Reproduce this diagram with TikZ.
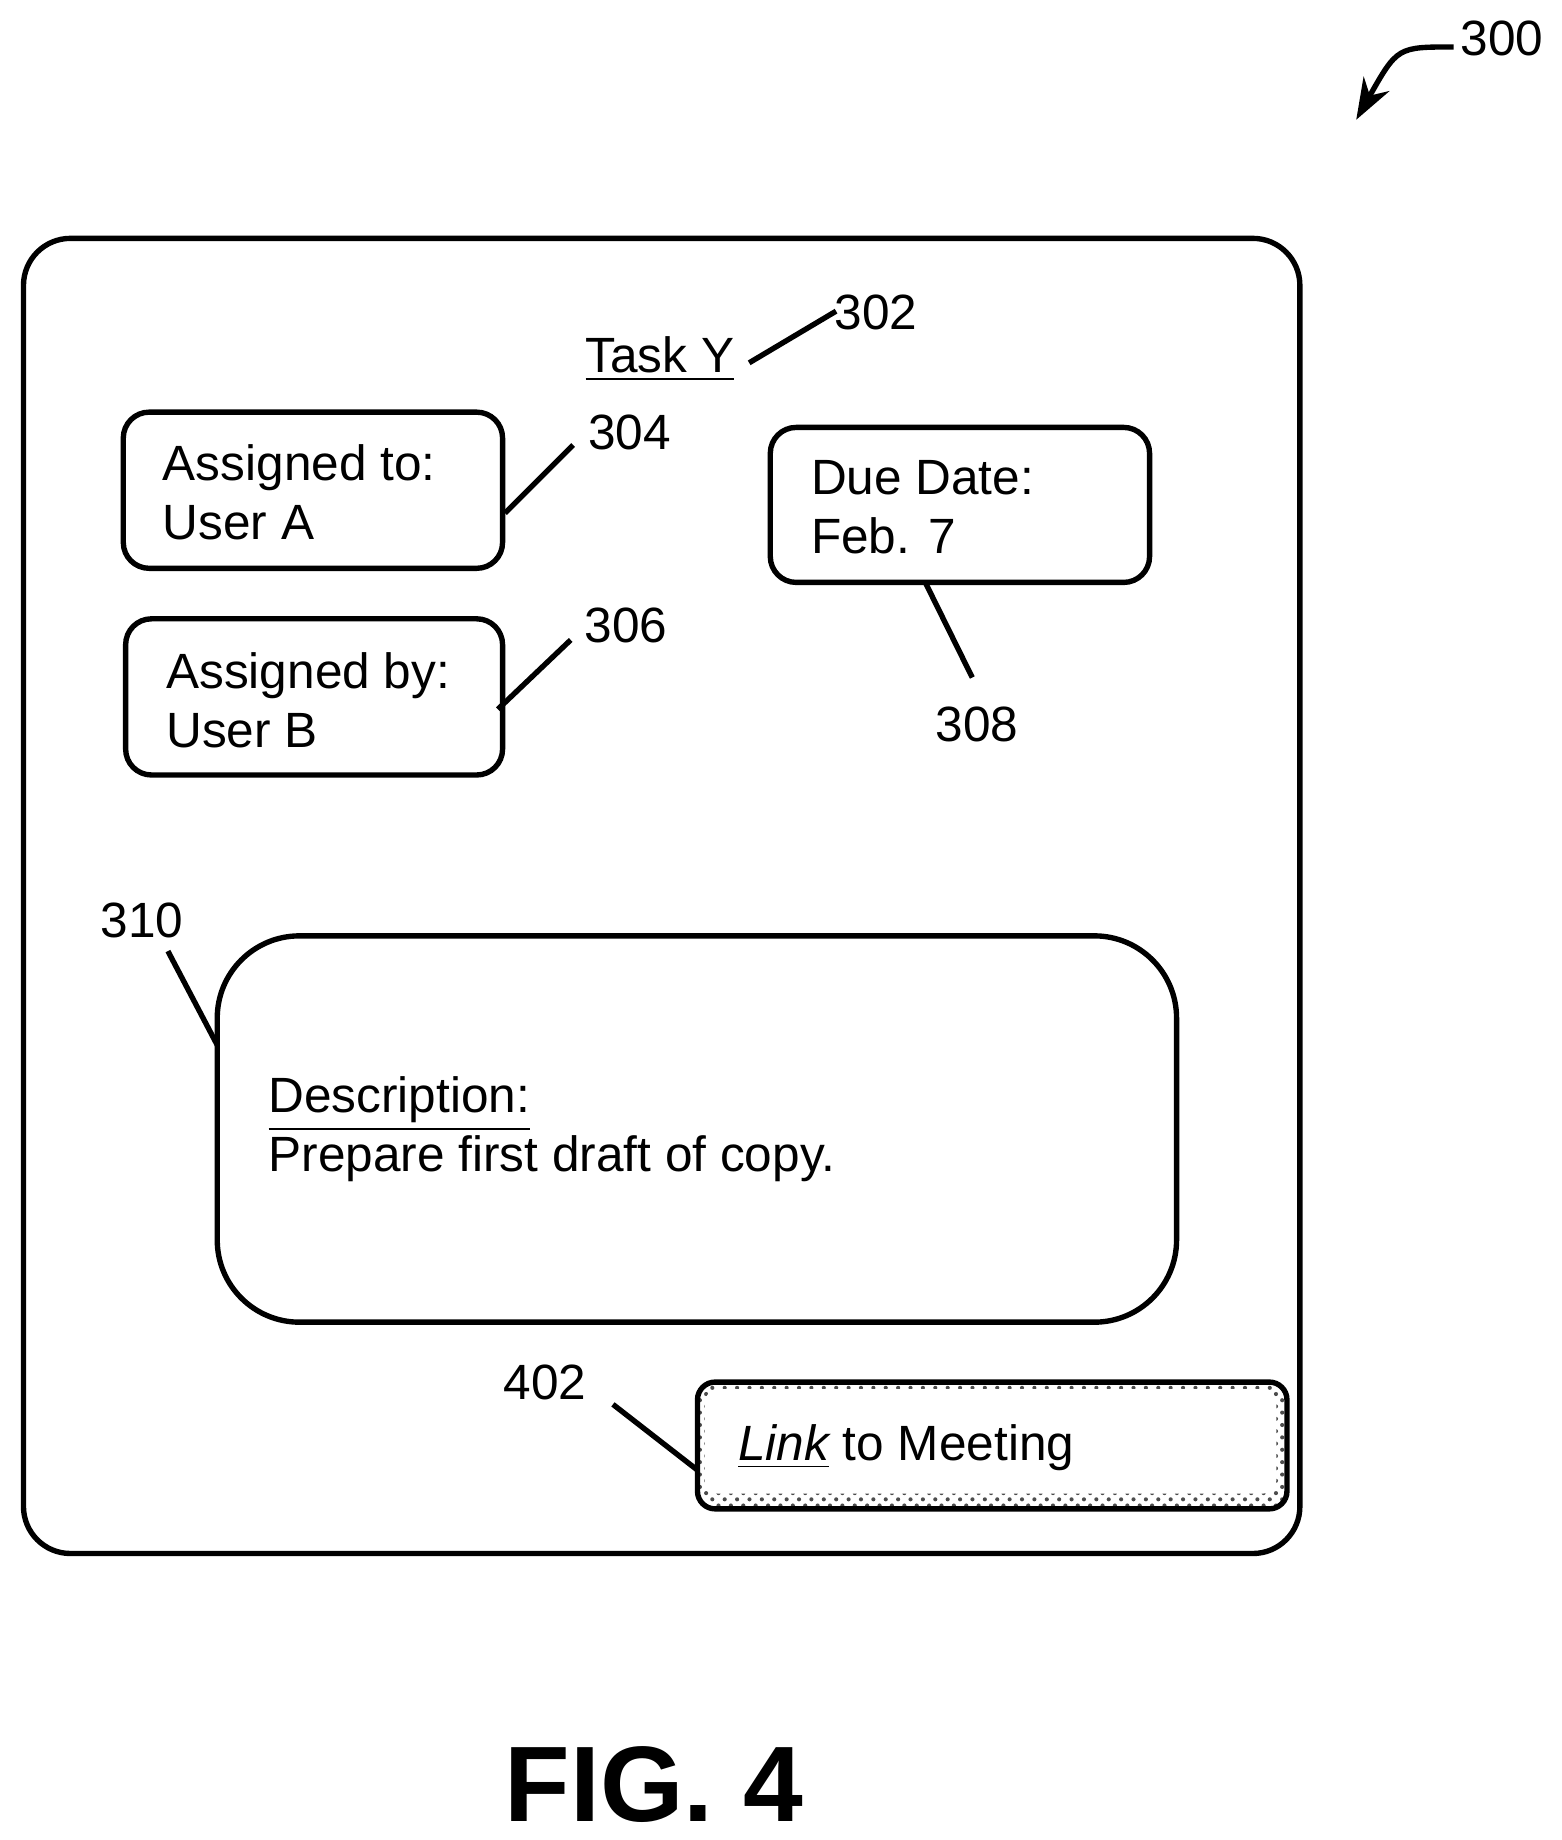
\documentclass[tikz,border=0pt]{standalone}
\usepackage{fontspec}
\setmainfont{Liberation Sans}
\usetikzlibrary{arrows.meta,patterns}
\begin{document}
\begin{tikzpicture}[x=0.01cm,y=-0.01cm,
  box/.style={draw,line width=1.3pt,rounded corners=0.22cm},
  lead/.style={line width=1.3pt},
  num/.style={font=\fontsize{12}{14}\selectfont,inner sep=0pt},
  txt/.style={font=\fontsize{12}{14}\selectfont,align=left,anchor=west,inner sep=0pt}]
 \useasboundingbox (0,0) rectangle (1330,1567);
 % outer frame
 \draw [line width=1.3pt, rounded corners=0.4cm] (20,203) rectangle (1107,1323);
 \node [num] (n300) at (1279,33) {300};
 \draw [lead, -{Stealth[length=0.35cm,width=0.25cm]}] (1238,40) .. controls (1190,40) .. (1155,102);
 % title
 \node [txt, anchor=center] (task) at (562,306) {\underline{Task Y}};
 \node [num] (n302) at (746,266) {302};
 \draw [lead] (638,309) -- (712,265);
 % assigned to / by
 \draw [box] (105,351) rectangle (428,484);
 \node [txt] (to) at (138,419) {Assigned to:\\[0.3pt]User A};
 \node [num] (n304) at (536,368) {304};
 \draw [lead] (430,437) -- (488,379);
 \draw [box] (107,527) rectangle (428,660);
 \node [txt] (by) at (141,596) {Assigned by:\\[0.3pt]User B};
 \node [num] (n306) at (533,533) {306};
 \draw [lead] (424,604) -- (486,545);
 % due date
 \draw [box] (656,364) rectangle (979,496);
 \node [txt] (due) at (690,432) {Due Date:\\[0.3pt]Feb. 7};
 \node [num] (n308) at (832,617) {308};
 \draw [lead] (788,496) -- (828,577);
 % description
 \draw [line width=1.3pt, rounded corners=0.7cm] (185,797) rectangle (1002,1126);
 \node [txt] (desc) at (228,962) {\underline{Description:}\\[0.3pt]Prepare first draft of copy.};
 \node [num] (n310) at (121,784) {310};
 \draw [lead] (185,890) -- (143,810);
 % link button
 \fill [pattern=crosshatch dots, pattern color=black!70, rounded corners=0.15cm] (594,1177) rectangle (1096,1285);
 \fill [white, rounded corners=0.12cm] (600,1183) rectangle (1087,1272);
 \draw [line width=1.3pt, rounded corners=0.15cm] (594,1177) rectangle (1096,1285);
 \node [txt] (link) at (628,1233) {\underline{\itshape Link} to Meeting};
 \node [num] (n402) at (464,1177) {402};
 \draw [lead] (522,1196) -- (594,1252);
 % caption
 \node [font=\bfseries\fontsize{26}{30}\selectfont] (fig) at (557,1520) {FIG. 4};
\end{tikzpicture}
\end{document}
